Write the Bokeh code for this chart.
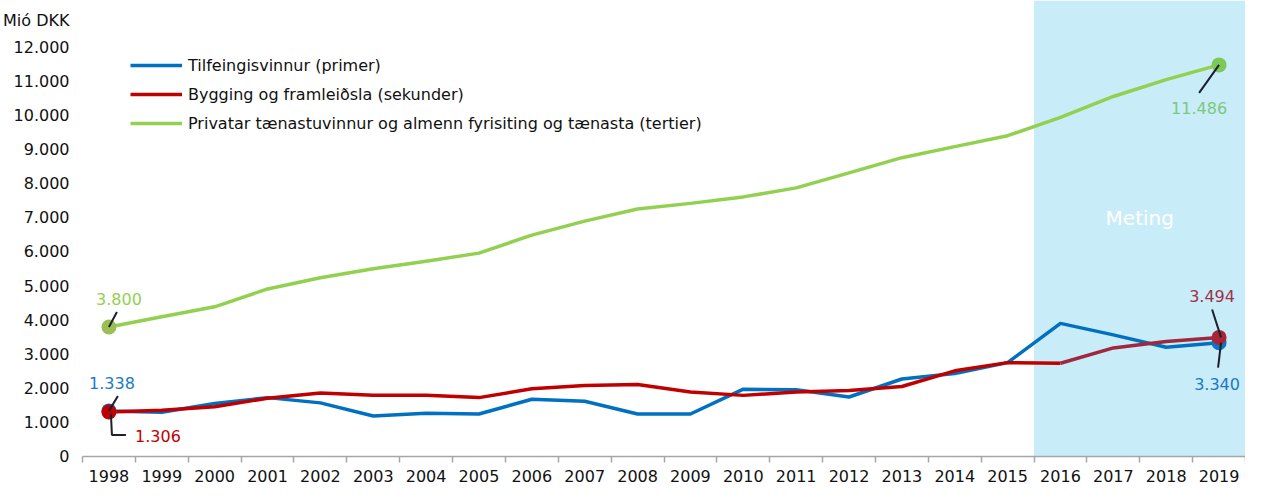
from bokeh.plotting import figure
from bokeh.models import FixedTicker, BoxAnnotation, Label, Legend, LegendItem
from bokeh.core.properties import value
from bokeh.embed import file_html
from bokeh.resources import INLINE

years = list(range(1998, 2020))
primer = [1338, 1300, 1554, 1727, 1573, 1189, 1266, 1247, 1678, 1621, 1247,
          1247, 1975, 1957, 1746, 2273, 2437, 2753, 3904, 3568, 3203, 3340]
sekunder = [1306, 1360, 1458, 1710, 1860, 1793, 1793, 1727, 1986, 2081, 2110,
            1890, 1793, 1890, 1937, 2052, 2513, 2753, 2734, 3185, 3376, 3494]
tertier = [3800, 4100, 4390, 4915, 5245, 5505, 5725, 5965, 6495, 6905, 7260,
           7425, 7615, 7880, 8318, 8765, 9090, 9410, 9950, 10560, 11055, 11486]
series_names = ["Tilfeingisvinnur (primer)",
                "Bygging og framleiðsla (sekunder)",
                "Privatar tænastuvinnur og almenn fyrisiting og tænasta (tertier)"]
y_ticks = list(range(0, 13000, 1000))
unit_label = "Mió DKK"
unit_pos = 12800
forecast_start = 2016

FONT = "DejaVu Sans"
BLUE = "#0070C0"
RED = "#C00000"
RED_F = "#A0283C"
GREEN = "#92D050"

W, H = 1245, 484
frame_left = 79
frame_bottom = 457
top12 = 47  # pixel row of 12000 from canvas top
ppy = (frame_bottom - top12) / 12000
y_end = frame_bottom / ppy
ppx = (W - frame_left) / len(years)

def fmt(v):
    return f"{v:,}".replace(",", ".")

def dx(px):
    return px / ppx

def dy(px):
    return -px / ppy

p = figure(width=W, height=H, x_range=(years[0] - 0.5, years[-1] + 0.5),
           y_range=(0, y_end), output_backend="svg", toolbar_location=None,
           min_border_left=frame_left, min_border_right=0, min_border_top=0,
           min_border_bottom=0)
p.outline_line_color = None
p.grid.visible = False
p.background_fill_color = "white"
p.border_fill_color = "white"

# x axis
xa = p.xaxis[0]
xa.ticker = FixedTicker(ticks=years, minor_ticks=[y - 0.5 for y in years] + [years[-1] + 0.5])
xa.major_label_overrides = {y: str(y) for y in years}
xa.axis_line_color = "#A6A6A6"
xa.axis_line_width = 1.5
xa.major_tick_line_color = None
xa.major_tick_out = 0
xa.major_tick_in = 0
xa.minor_tick_line_color = "#A6A6A6"
xa.minor_tick_line_width = 1.5
xa.minor_tick_out = 6
xa.minor_tick_in = 0
xa.major_label_text_font = FONT
xa.major_label_text_font_size = "16px"
xa.major_label_text_color = "#111111"
xa.major_label_standoff = 7

# y axis (unit label shown as the top label)
ya = p.yaxis[0]
ya.ticker = FixedTicker(ticks=y_ticks + [unit_pos])
overrides = {v: fmt(v) for v in y_ticks}
overrides[unit_pos] = unit_label
ya.major_label_overrides = overrides
ya.axis_line_color = None
ya.major_tick_line_color = None
ya.minor_tick_line_color = None
ya.major_tick_out = 0
ya.major_tick_in = 0
ya.major_label_text_font = FONT
ya.major_label_text_font_size = "16px"
ya.major_label_text_color = "#111111"
ya.major_label_standoff = 13

# forecast shading
p.add_layout(BoxAnnotation(left=forecast_start - 0.5, fill_color="#C9ECF9", fill_alpha=1.0,
                           line_color=None, level="underlay"))

fi = years.index(forecast_start)
r_blue = p.line(years, primer, line_color=BLUE, line_width=3.5, line_join="round")
r_red = p.line(years[:fi + 1], sekunder[:fi + 1], line_color=RED, line_width=3.5, line_join="round")
p.line(years[fi:], sekunder[fi:], line_color=RED_F, line_width=3.5, line_join="round")
r_green = p.line(years, tertier, line_color=GREEN, line_width=3.5, line_join="round")

# end point dots
p.scatter([years[-1]], [primer[-1]], size=15, fill_color="#0A78C8", line_color=None)
p.scatter([years[-1]], [sekunder[-1]], size=15, fill_color="#AA2438", line_color=None)
p.scatter([years[0]], [primer[0]], size=15, fill_color=BLUE, line_color=None)
p.scatter([years[0]], [sekunder[0]], size=15, fill_color=RED, line_color=None)
p.scatter([years[0]], [tertier[0]], size=15, fill_color="#9BBE55", line_color=None)
p.scatter([years[-1]], [tertier[-1]], size=15, fill_color="#7CC95A", line_color=None)

# leader lines (pixel offsets from the data points)
x0, x1 = years[0], years[-1]
lead_xs = [
    [x0, x0 + dx(8)],
    [x0, x0 + dx(9)],
    [x0 + dx(2), x0 + dx(3), x0 + dx(17)],
    [x1, x1 + dx(-20)],
    [x1 + dx(-7), x1 + dx(2)],
    [x1 + dx(2), x1 + dx(-1)],
]
lead_ys = [
    [tertier[0], tertier[0] + dy(-15)],
    [primer[0], primer[0] + dy(-15)],
    [sekunder[0] + dy(2), sekunder[0] + dy(23), sekunder[0] + dy(23)],
    [tertier[-1], tertier[-1] + dy(28)],
    [sekunder[-1] + dy(-28), sekunder[-1]],
    [primer[-1], primer[-1] + dy(25)],
]
p.multi_line(lead_xs, lead_ys, line_color="#1B1F2E", line_width=2)

# value labels
def vlabel(x, y, txt, color, xo, yo):
    p.text([x], [y], text=[txt], x_offset=xo, y_offset=yo, text_color=color,
           text_font=value(FONT), text_font_size="16px", text_align="center",
           text_baseline="middle")

vlabel(x0, tertier[0], fmt(tertier[0]), "#92D050", 10, -28)
vlabel(x0, primer[0], fmt(primer[0]), "#1A7AC8", 3, -28)
vlabel(x0, sekunder[0], fmt(sekunder[0]), RED, 49, 24)
vlabel(x1, tertier[-1], fmt(tertier[-1]), "#7DC87D", -20, 43)
vlabel(x1, sekunder[-1], fmt(sekunder[-1]), "#A0304A", -7, -41)
vlabel(x1, primer[-1], fmt(primer[-1]), "#1A7AC8", -2, 41)

# Meting label
p.add_layout(Label(x=(forecast_start - 0.5 + years[-1] + 0.5) / 2, y=7000, text="Meting",
                   text_color="white", text_font=FONT, text_font_size="20px",
                   text_align="center", text_baseline="middle"))

legend = Legend(items=[LegendItem(label=series_names[0], renderers=[r_blue]),
                       LegendItem(label=series_names[1], renderers=[r_red]),
                       LegendItem(label=series_names[2], renderers=[r_green])],
                location=(48, frame_bottom - 56 - 78), glyph_width=52, glyph_height=20,
                label_height=20, label_standoff=6, spacing=9, padding=0, margin=0,
                label_text_font=FONT, label_text_font_size="16px",
                label_text_color="#111111", background_fill_alpha=0,
                border_line_color=None)
p.add_layout(legend)

open("out.html", "w").write(file_html(p, INLINE))
